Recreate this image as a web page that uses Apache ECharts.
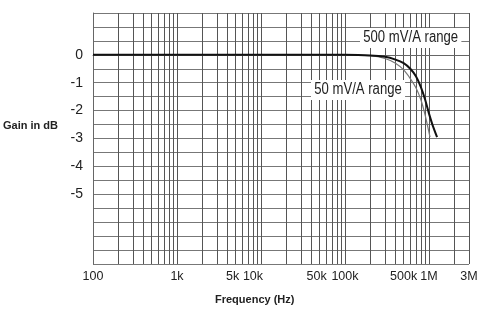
<!DOCTYPE html>
<html>
<head>
<meta charset="utf-8">
<script src="https://cdn.jsdelivr.net/npm/echarts@6/dist/echarts.min.js"></script>
<style>
html,body{margin:0;padding:0;background:#fff;}
#c{width:485px;height:315px;}
</style>
</head>
<body>
<div id="c"></div>
<script>
// Tick labels
const freqTicks = [100, 1000, 5000, 10000, 50000, 100000, 500000, 1000000, 3000000];
const freqTickLabels = ['100', '1k', '5k', '10k', '50k', '100k', '500k', '1M', '3M'];
const gainTicks = [0, -1, -2, -3, -4, -5];

// 500 mV/A range curve
const freq500 = [100, 1000, 10000, 100000, 200000, 300000, 400000, 500000, 600000, 700000, 800000, 900000, 1000000, 1100000, 1250000];
const gain500 = [0, 0, 0, 0, -0.02, -0.07, -0.17, -0.3, -0.5, -0.77, -1.15, -1.6, -2.1, -2.5, -2.95];

// 50 mV/A range curve
const freq50 = [100, 1000, 10000, 100000, 200000, 300000, 400000, 500000, 600000, 700000, 800000, 900000, 1030000];
const gain50 = [0, 0, 0, 0, -0.03, -0.13, -0.3, -0.54, -0.85, -1.18, -1.6, -2.15, -2.95];

// log grid positions (1..9 per decade)
const gridX = [];
for (let d = 100; d <= 1000000; d *= 10) {
  for (let m = 1; m <= 9; m++) {
    const v = d * m;
    if (v <= 3000000) gridX.push(v);
  }
}

function labelFor(v) {
  let best = -1, bd = Infinity;
  freqTicks.forEach((t, i) => {
    const dd = Math.abs(Math.log10(v) - Math.log10(t));
    if (dd < bd) { bd = dd; best = i; }
  });
  if (bd >= 0.01) return '';
  const s = freqTickLabels[best];
  if (s === '10k') return '{s16|' + s + '}';
  if (s === '5k' || s === '50k') return '{s6|' + s + '}';
  return s;
}

const chart = echarts.init(document.getElementById('c'), null, {renderer: 'canvas'});
const font = '"Liberation Sans", Arial, sans-serif';
chart.setOption({
  animation: false,
  backgroundColor: '#fff',
  grid: {left: 93, right: 16, top: 13, bottom: 51, containLabel: false},
  xAxis: {
    type: 'log',
    logBase: 10,
    min: 100,
    max: 3000000,
    axisLine: {show: true, lineStyle: {color: '#666', width: 1}},
    axisTick: {show: false, customValues: gridX},
    axisLabel: {
      customValues: freqTicks,
      formatter: labelFor,
      color: '#222',
      fontSize: 12.5,
      fontFamily: font,
      margin: 6,
      rich: {
        s16: {padding: [0, 16, 0, 0], fontSize: 12.5, fontFamily: font, color: '#222'},
        s6: {padding: [0, 6, 0, 0], fontSize: 12.5, fontFamily: font, color: '#222'}
      }
    },
    splitLine: {show: true, lineStyle: {color: '#555', width: 1}},
    minorSplitLine: {show: false}
  },
  yAxis: {
    type: 'value',
    min: -7.5,
    max: 1.5,
    interval: 0.5,
    axisLine: {show: true, lineStyle: {color: '#666', width: 1}},
    axisTick: {show: false},
    axisLabel: {
      customValues: gainTicks,
      formatter: v => String(Math.round(v)),
      color: '#222',
      fontSize: 14,
      fontFamily: font,
      margin: 10
    },
    splitLine: {show: true, lineStyle: {color: '#777', width: 1}}
  },
  series: [
    {
      name: '50 mV/A range',
      type: 'line',
      showSymbol: false,
      smooth: 0.3,
      data: freq50.map((f, i) => [f, gain50[i]]),
      lineStyle: {color: '#777', width: 1.2},
      z: 3
    },
    {
      name: '500 mV/A range',
      type: 'line',
      showSymbol: false,
      smooth: 0.3,
      data: freq500.map((f, i) => [f, gain500[i]]),
      lineStyle: {color: '#111', width: 2},
      z: 4
    }
  ],
  graphic: [
    {
      type: 'text', x: 3, y: 120,
      style: {text: 'Gain in dB', fill: '#222', font: 'bold 11px ' + font}
    },
    {
      type: 'text', x: 215, y: 294,
      style: {text: 'Frequency (Hz)', fill: '#222', font: 'bold 11px ' + font}
    },
    {
      type: 'text', x: 360, y: 28, scaleX: 0.82, z: 10,
      style: {text: '500 mV/A range', fill: '#222', font: '16px ' + font,
              backgroundColor: '#fff', padding: [2, 4, 2, 4]}
    },
    {
      type: 'text', x: 311, y: 80, scaleX: 0.82, z: 10,
      style: {text: '50 mV/A range', fill: '#222', font: '16px ' + font,
              backgroundColor: '#fff', padding: [2, 4, 2, 4]}
    }
  ]
});
</script>
</body>
</html>
